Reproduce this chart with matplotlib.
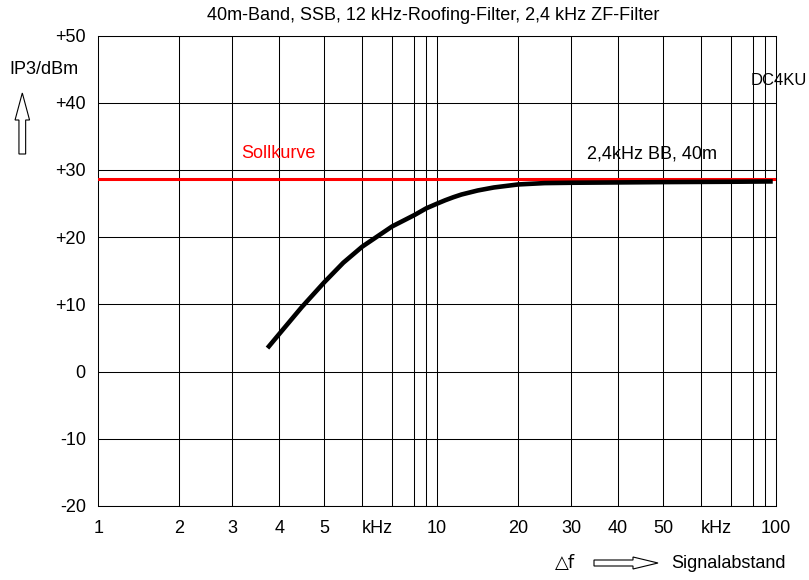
import numpy as np
import matplotlib.pyplot as plt
from matplotlib.patches import FancyArrow

plt.rcParams['font.family'] = ['Liberation Sans', 'DejaVu Sans']

# Kurve (kHz, dBm)
f_khz = [3.75, 4, 4.5, 5, 5.5, 6, 7, 8, 9, 10, 11, 12, 13, 15, 17, 20, 25, 30, 40, 50, 70, 97]
ip3 = [3.5, 5.6, 9.6, 13.3, 16.2, 18.6, 21.6, 23.3, 24.3, 25.0, 25.5, 25.95, 26.35, 26.95,
       27.4, 27.85, 28.05, 28.1, 28.15, 28.2, 28.25, 28.3]
soll = 28.7

xtick_pos = [1, 2, 3, 4, 5, 6.5, 10, 20, 30, 40, 50, 65, 100]
xtick_lab = ['1', '2', '3', '4', '5', 'kHz', '10', '20', '30', '40', '50', 'kHz', '100']
xgrid = list(range(2, 10)) + list(range(10, 100, 10))
ytick_pos = [-20, -10, 0, 10, 20, 30, 40, 50]
ytick_lab = ['-20', '-10', '0', '+10', '+20', '+30', '+40', '+50']

# Teilung der Dekade wie auf dem Original-Raster (kein reines log)
mant = np.arange(1, 11)
frac = np.array([0, 0.239, 0.395, 0.534, 0.667, 0.779, 0.867, 0.933, 0.968, 1.0])


def fwd(x):
    x = np.clip(np.asarray(x, float), 1e-6, None)
    d = np.floor(np.log10(x) + 1e-12)
    return d + np.interp(x / 10.0**d, mant, frac)


def inv(y):
    y = np.asarray(y, float)
    d = np.floor(y)
    return np.interp(y - d, frac, mant) * 10.0**d


W, H = 809, 580
fs = 13
fig = plt.figure(figsize=(W / 100, H / 100), dpi=100)
ax = fig.add_axes([98.3 / W, 1 - 506 / H, (776 - 98.3) / W, (506 - 35.6) / H])

ax.set_xscale('function', functions=(fwd, inv))
ax.set_xlim(1, 100)
ax.set_ylim(-20, 50)

ax.set_xticks(xtick_pos, xtick_lab)
ax.set_yticks(ytick_pos, ytick_lab)
ax.tick_params(which='both', length=0, labelsize=fs)
ax.tick_params(axis='x', pad=10)
ax.tick_params(axis='y', pad=9)
for g in xgrid:
    ax.axvline(g, color='black', lw=0.75, zorder=1)
ax.grid(which='major', axis='y', color='black', lw=0.75)
for s in ax.spines.values():
    s.set_linewidth(0.75)

ax.axhline(soll, color='#ff0000', lw=2.2, zorder=3)
ax.plot(f_khz, ip3, color='black', lw=3.3, solid_capstyle='butt',
        solid_joinstyle='round', zorder=4)


def px(x, y):
    return x / W, 1 - y / H


fig.text(*px(433, 16), '40m-Band, SSB, 12 kHz-Roofing-Filter, 2,4 kHz ZF-Filter',
         ha='center', va='center', fontsize=fs)
fig.text(*px(44, 69), 'IP3/dBm', ha='center', va='center', fontsize=fs)
fig.text(*px(807, 80), 'DC4KU', ha='right', va='center', fontsize=12)
fig.text(*px(241, 154), 'Sollkurve', ha='left', va='center', fontsize=fs, color='#ff0000')
fig.text(*px(587, 154), '2,4kHz BB, 40m', ha='left', va='center', fontsize=fs)
fig.text(*px(555, 563), '△f', ha='left', va='center', fontsize=fs,
         family=['DejaVu Sans'])
fig.text(*px(671, 563), 'Signalabstand', ha='left', va='center', fontsize=fs)

# hohle Pfeile (in Zoll)
up = FancyArrow(0.223, (H - 154) / 100, 0, 0.61, width=0.067, head_width=0.145,
                head_length=0.27, length_includes_head=True, fc='white', ec='black',
                lw=0.8, transform=fig.dpi_scale_trans)
right = FancyArrow(5.94, (H - 563) / 100, 0.64, 0, width=0.06, head_width=0.12,
                   head_length=0.25, length_includes_head=True, fc='white', ec='black',
                   lw=0.8, transform=fig.dpi_scale_trans)
fig.add_artist(up)
fig.add_artist(right)

fig.savefig('out.png', dpi=100)
